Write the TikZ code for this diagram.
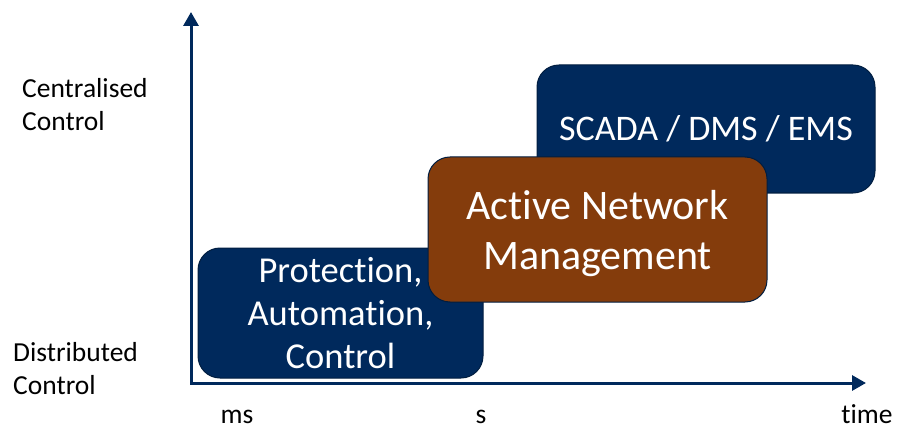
\documentclass[tikz,border=0pt]{standalone}
\usepackage{fontspec}
\setmainfont{Carlito}[Ligatures=NoCommon]
\usetikzlibrary{calc,arrows.meta}
\definecolor{navy}{RGB}{0,41,92}
\definecolor{anmbrown}{RGB}{132,60,12}

\begin{document}
\begin{tikzpicture}[x=1pt,y=1pt,
    box/.style={rectangle,rounded corners=22pt,draw=navy!70!black,line width=1pt,text=white,align=center,inner sep=0pt},
    axis/.style={navy,line width=3pt,{Triangle[length=14pt,width=15pt]}-{Triangle[length=14pt,width=15pt]}},
    lbl/.style={inner sep=0pt,align=left,font=\fontsize{27.5}{33}\selectfont}]
    \useasboundingbox (0,0) rectangle (899,429); % keeps the margins

    \coordinate (origin) at (191,46);
    \coordinate (ytop) at (191,417);
    \coordinate (xend) at (866,46);

    \draw[axis] (ytop) -- (origin) -- (xend);

    \node[lbl,anchor=west] (central) at (22,324.5) {Centralised\\Control};
    \node[lbl,anchor=west] (distrib) at (13,60.5) {Distributed\\Control};
    \node[lbl,anchor=base] (ms) at (237,6) {ms};
    \node[lbl,anchor=base] (sec) at (481,6) {s};
    \node[lbl,anchor=base] (time) at (867,6) {time};

    \node[box,fill=navy,minimum width=285pt,minimum height=130pt,text depth=0pt,font=\fontsize{36.5}{43}\selectfont]
        (protect) at (340.5,116) {Protection,\\Automation,\\Control};
    \node[box,fill=navy,minimum width=338pt,minimum height=128pt,font=\fontsize{36}{40}\selectfont]
        (scada) at (706,300) {SCADA / DMS / EMS};
    \node[box,fill=anmbrown,minimum width=339pt,minimum height=145pt,text depth=0pt,font=\fontsize{42}{50}\selectfont]
        (anm) at (597.5,199.5) {Active Network\\Management};
\end{tikzpicture}
\end{document}
